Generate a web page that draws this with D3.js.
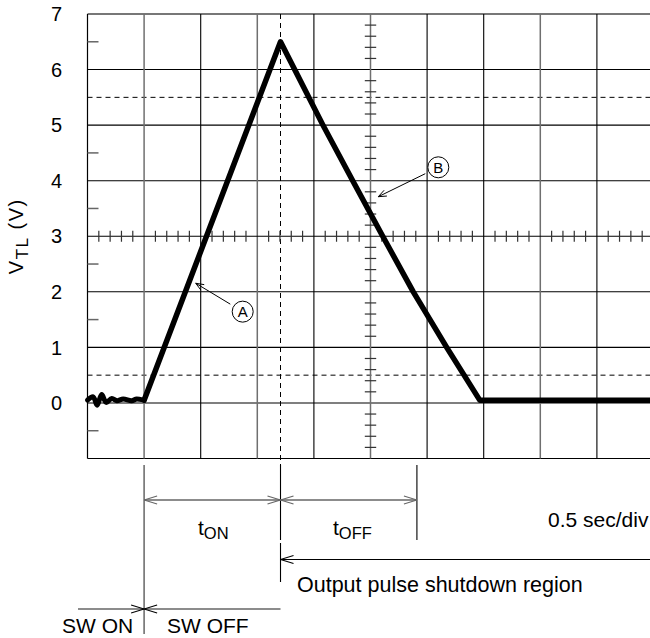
<!DOCTYPE html>
<html><head><meta charset="utf-8">
<script src="https://cdn.jsdelivr.net/npm/d3@7"></script>
<style>
body{margin:0;background:#fff}
text{font-family:"Liberation Sans",Arial,Helvetica,sans-serif;fill:#000}
</style>
</head><body>
<svg id="c" width="650" height="638"></svg>
<script>
// ---- data (time in seconds, 0.5 s/div; voltage V_TL in volts) ----
const timeSec = [0, 0.05, 0.085, 0.125, 0.165, 0.215, 0.26, 0.315, 0.39, 0.435, 0.5,
                 1.705, 1.83, 2.08, 2.343, 2.608, 2.878, 3.173, 3.465, 5.0];
const vtl     = [0.05, 0.11, -0.04, 0.15, 0.01, 0.08, 0.04, 0.07, 0.04, 0.07, 0.05,
                 6.5, 6.0, 5.0, 4.0, 3.0, 2.0, 1.0, 0.05, 0.05];
const noiseCount = 11;
const yTickValues = [0, 1, 2, 3, 4, 5, 6, 7];
const yTickLabels = ["0", "1", "2", "3", "4", "5", "6", "7"];
const yGridSolid = [-1, 0, 1, 2, 4, 5, 6, 7];
const yGridDashed = [0.5, 5.5];
const yHalfTicks = [-0.5, 1.5, 2.5, 3.5, 4.5, 6.5];
const xGridSec = [0.5, 1.0, 1.5, 2.0, 2.5, 3.0, 3.5, 4.0, 4.5];
const xGridGray = [0.5, 1.5, 2.5, 4.0];
const switchOffSec = 0.5;
const peakSec = 1.705;
const tOffEndSec = 2.91;
const centerV = 3;
const centerSec = 2.5;
const calloutA = {label: "A", t: 1.371, v: 1.643, tipT: 0.956, tipV: 2.154};
const calloutB = {label: "B", t: 3.099, v: 4.241, tipT: 2.569, tipV: 3.712};

// ---- scales ----
const x = d3.scaleLinear().domain([0, 5]).range([87.5, 653.5]);
const y = d3.scaleLinear().domain([-1, 7]).range([458.5, 14]);
const svg = d3.select("#c");
const [x0, x1] = x.range();
const [yB, yT] = y.range();

// ---- grid ----
const grid = svg.append("g");
grid.selectAll("line.h").data(yGridSolid).join("line")
  .attr("x1", x0).attr("x2", x1).attr("y1", d => y(d)).attr("y2", d => y(d))
  .attr("stroke", d => d === 7 ? "#777" : "#000")
  .attr("stroke-width", d => d === 7 ? 2 : 1.1);
grid.selectAll("line.hd").data(yGridDashed).join("line")
  .attr("x1", x0).attr("x2", x1).attr("y1", d => y(d)).attr("y2", d => y(d))
  .attr("stroke", "#000").attr("stroke-width", 1).attr("stroke-dasharray", "5,4");
grid.selectAll("line.v").data(xGridSec).join("line")
  .attr("x1", d => x(d)).attr("x2", d => x(d)).attr("y1", yT).attr("y2", yB)
  .attr("stroke", d => xGridGray.includes(d) ? "#6f6f6f" : "#000")
  .attr("stroke-width", d => xGridGray.includes(d) ? 1.5 : 1.1);
// left border
grid.append("line").attr("x1", x0).attr("x2", x0).attr("y1", yT).attr("y2", yB)
  .attr("stroke", "#000").attr("stroke-width", 1.2);
// half-division ticks on left border
grid.selectAll("line.ht").data(yHalfTicks).join("line")
  .attr("x1", x0).attr("x2", x0 + 11).attr("y1", d => y(d)).attr("y2", d => y(d))
  .attr("stroke", "#666").attr("stroke-width", 1.5);
// dashed vertical at peak
grid.append("line").attr("x1", x(peakSec)).attr("x2", x(peakSec)).attr("y1", yT).attr("y2", yB + 10)
  .attr("stroke", "#000").attr("stroke-width", 1).attr("stroke-dasharray", "5,4");

// center axes with minor ticks
grid.append("line").attr("x1", x0).attr("x2", x1).attr("y1", y(centerV)).attr("y2", y(centerV))
  .attr("stroke", "#000").attr("stroke-width", 1.1);
const minorT = d3.range(1, 50).map(i => i * 0.1).filter((d, i) => (i + 1) % 5 !== 0);
grid.selectAll("line.mt").data(minorT).join("line")
  .attr("x1", d => x(d)).attr("x2", d => x(d))
  .attr("y1", y(centerV) - 5.5).attr("y2", y(centerV) + 5.5)
  .attr("stroke", "#333").attr("stroke-width", 1.2);
const minorV = d3.range(-4, 35).map(i => i * 0.2).filter(d => Math.abs(d - Math.round(d)) > 0.05);
grid.selectAll("line.mv").data(minorV).join("line")
  .attr("x1", x(centerSec) - 5.7).attr("x2", x(centerSec) + 5.7)
  .attr("y1", d => y(d)).attr("y2", d => y(d))
  .attr("stroke", "#333").attr("stroke-width", 1.2);

// ---- y tick labels and title ----
svg.selectAll("text.yl").data(yTickValues).join("text")
  .attr("x", 62).attr("y", d => y(d)).attr("dy", "0.36em")
  .attr("text-anchor", "end").attr("font-size", 20)
  .text((d, i) => yTickLabels[i]);
const title = svg.append("text")
  .attr("transform", `translate(23,${(yT + yB) / 2}) rotate(-90)`)
  .attr("text-anchor", "middle").attr("font-size", 20).attr("letter-spacing", 1.5);
title.append("tspan").text("V");
title.append("tspan").attr("font-size", 17).attr("dy", 5).text("TL");
title.append("tspan").attr("dy", -5).text(" (V)");

// ---- trace ----
const pts = timeSec.map((t, i) => [t, vtl[i]]);
const line = d3.line().x(d => x(d[0])).y(d => y(d[1]));
svg.append("path").datum(pts.slice(noiseCount - 1))
  .attr("d", line).attr("fill", "none").attr("stroke", "#000")
  .attr("stroke-width", 5.5).attr("stroke-linejoin", "round").attr("stroke-linecap", "round");
svg.append("path").datum(pts.slice(0, noiseCount))
  .attr("d", line.curve(d3.curveCatmullRom)).attr("fill", "none").attr("stroke", "#000")
  .attr("stroke-width", 5).attr("stroke-linejoin", "round").attr("stroke-linecap", "round");

// ---- helpers ----
function arrowHead(g, tx, ty, dx, dy, len, hw, color, w) {
  const n = Math.hypot(dx, dy); dx /= n; dy /= n;
  const px = -dy, py = dx;
  [1, -1].forEach(s => {
    g.append("line").attr("x1", tx).attr("y1", ty)
      .attr("x2", tx - dx * len + s * px * hw).attr("y2", ty - dy * len + s * py * hw)
      .attr("stroke", color).attr("stroke-width", w);
  });
}
function callout(c) {
  const g = svg.append("g");
  const cx = x(c.t), cy = y(c.v), tx = x(c.tipT), ty = y(c.tipV);
  const r = 10.5;
  g.append("circle").attr("cx", cx).attr("cy", cy).attr("r", r)
    .attr("fill", "#fff").attr("stroke", "#000").attr("stroke-width", 1);
  g.append("text").attr("x", cx).attr("y", cy).attr("dy", "0.36em")
    .attr("text-anchor", "middle").attr("font-size", 15).text(c.label);
  const dx = tx - cx, dy = ty - cy, n = Math.hypot(dx, dy);
  const sx = cx + dx / n * (r + 4), sy = cy + dy / n * (r + 4);
  g.append("line").attr("x1", sx).attr("y1", sy).attr("x2", tx).attr("y2", ty)
    .attr("stroke", "#000").attr("stroke-width", 1);
  arrowHead(g, tx, ty, dx, dy, 8, 3.2, "#000", 1);
}
callout(calloutA);
callout(calloutB);

// ---- dimension annotations below plot ----
const ann = svg.append("g");
const gray = "#666";
const xs = x(switchOffSec), xp = x(peakSec), xe = x(tOffEndSec);
ann.append("line").attr("x1", xs).attr("x2", xs).attr("y1", 465).attr("y2", 634)
  .attr("stroke", gray).attr("stroke-width", 1.5);
ann.append("line").attr("x1", xp).attr("x2", xp).attr("y1", 465).attr("y2", 540)
  .attr("stroke", "#000").attr("stroke-width", 1.1);
ann.append("line").attr("x1", xp).attr("x2", xp).attr("y1", 543).attr("y2", 582)
  .attr("stroke", "#000").attr("stroke-width", 1.1);
ann.append("line").attr("x1", xe).attr("x2", xe).attr("y1", 465).attr("y2", 540)
  .attr("stroke", "#000").attr("stroke-width", 1.1);
// t_ON / t_OFF arrows
const yDim = 500;
ann.append("line").attr("x1", xs).attr("x2", xe).attr("y1", yDim).attr("y2", yDim)
  .attr("stroke", gray).attr("stroke-width", 1.5);
arrowHead(ann, xs, yDim, -1, 0, 13, 4, gray, 1.2);
arrowHead(ann, xp, yDim, 1, 0, 13, 4, gray, 1.2);
arrowHead(ann, xp, yDim, -1, 0, 13, 4, gray, 1.2);
arrowHead(ann, xe, yDim, 1, 0, 13, 4, gray, 1.2);
// shutdown region
const yShut = 559.5;
ann.append("line").attr("x1", xp).attr("x2", 650).attr("y1", yShut).attr("y2", yShut)
  .attr("stroke", "#000").attr("stroke-width", 1.1);
arrowHead(ann, xp, yShut, -1, 0, 13, 4, "#000", 1.1);
// SW line
const ySw = 609;
ann.append("line").attr("x1", 78).attr("x2", xp).attr("y1", ySw).attr("y2", ySw)
  .attr("stroke", gray).attr("stroke-width", 1.5);
arrowHead(ann, xs, ySw, 1, 0, 13, 4, "#000", 1.1);
arrowHead(ann, xs, ySw, -1, 0, 13, 4, "#000", 1.1);

// labels
function subLabel(xx, yy, main, sub) {
  const t = ann.append("text").attr("x", xx).attr("y", yy).attr("font-size", 21);
  t.append("tspan").text(main);
  t.append("tspan").attr("font-size", 16.5).attr("dy", 4).text(sub);
}
subLabel(198, 535, "t", "ON");
subLabel(333, 535, "t", "OFF");
ann.append("text").attr("x", 548).attr("y", 527).attr("font-size", 21).text("0.5 sec/div");
ann.append("text").attr("x", 297).attr("y", 591.5).attr("font-size", 21.5).text("Output pulse shutdown region");
ann.append("text").attr("x", 62).attr("y", 632.5).attr("font-size", 21).text("SW ON");
ann.append("text").attr("x", 167).attr("y", 632.5).attr("font-size", 21).text("SW OFF");
</script>
</body></html>
